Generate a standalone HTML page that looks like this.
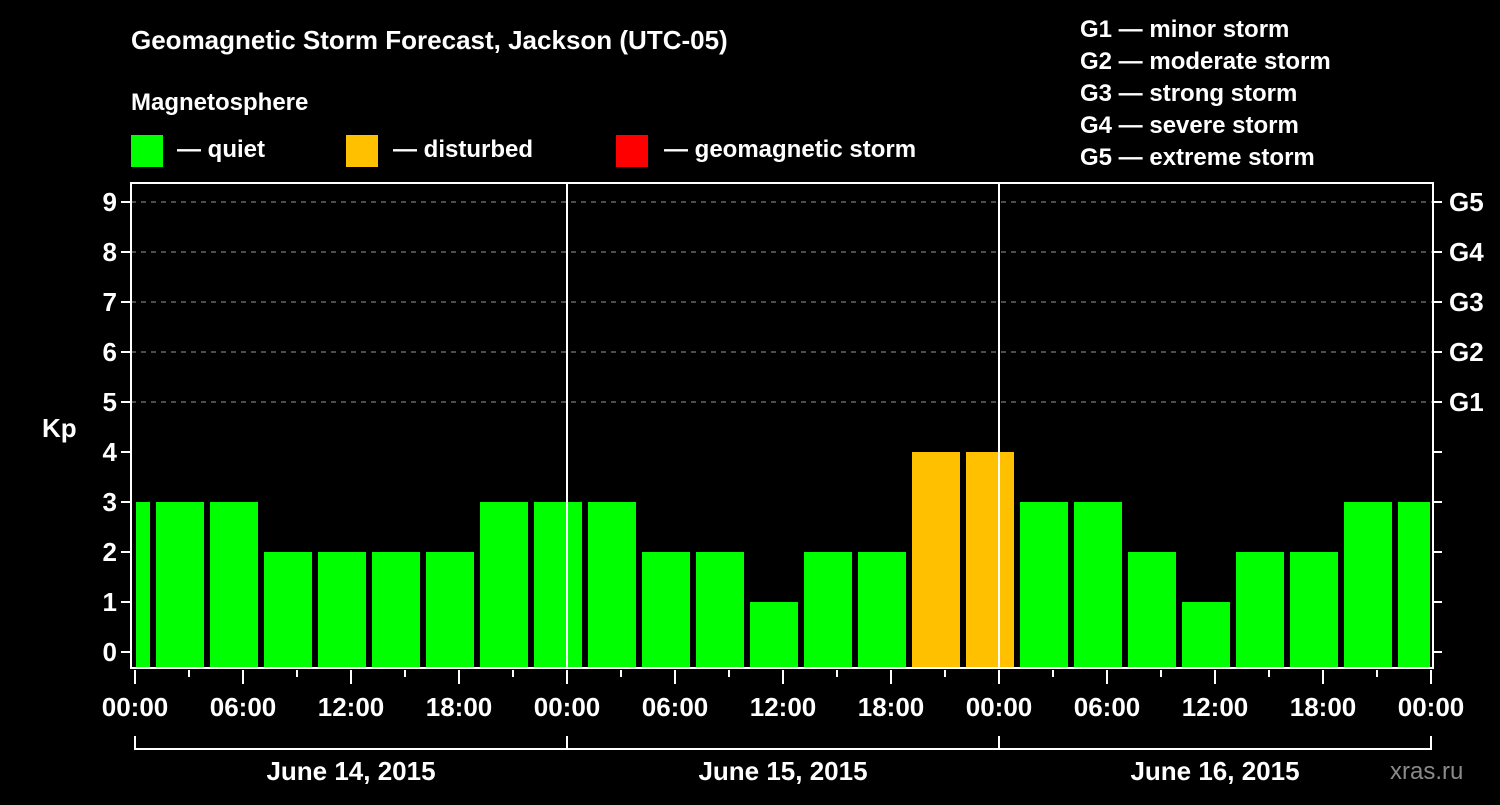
<!DOCTYPE html>
<html><head><meta charset="utf-8"><style>
body{margin:0;background:#000;width:1500px;height:800px;overflow:hidden}
svg text{font-family:"Liberation Sans",Arial,sans-serif;font-weight:bold;fill:#fff}
</style></head><body>
<svg id="chart" width="1500" height="800" xmlns="http://www.w3.org/2000/svg">
<rect width="1500" height="800" fill="#000"/>
<text x="131" y="49" font-size="26">Geomagnetic Storm Forecast, Jackson (UTC-05)</text>
<text x="131" y="110" font-size="24">Magnetosphere</text>
<g>
<rect x="131" y="135" width="32" height="32" fill="#00ff00"/>
<text x="177" y="157" font-size="24">— quiet</text>
<rect x="346" y="135" width="32" height="32" fill="#ffc000"/>
<text x="393" y="157" font-size="24">— disturbed</text>
<rect x="616" y="135" width="32" height="32" fill="#ff0000"/>
<text x="664" y="157" font-size="24">— geomagnetic storm</text>
</g>
<g font-size="24">
<text x="1080" y="37">G1 — minor storm</text>
<text x="1080" y="69">G2 — moderate storm</text>
<text x="1080" y="101">G3 — strong storm</text>
<text x="1080" y="133">G4 — severe storm</text>
<text x="1080" y="165">G5 — extreme storm</text>
</g>
<text x="42" y="437" font-size="26">Kp</text>
<text x="1390" y="779" font-size="24" fill="#888" style="fill:#8a8a8a;font-weight:normal">xras.ru</text>
<g id="marks"></g>
</svg>
<script>
const values=[3,3,3,2,2,2,2,3,3,3,2,2,1,2,2,4,4,3,3,2,1,2,2,3,3];
const yTicks=[0,1,2,3,4,5,6,7,8,9];
const gLabels=["G1","G2","G3","G4","G5"];
const xTickLabels=["00:00","06:00","12:00","18:00","00:00","06:00","12:00","18:00","00:00","06:00","12:00","18:00","00:00"];
const dayLabels=["June 14, 2015","June 15, 2015","June 16, 2015"];
const NS="http://www.w3.org/2000/svg";
const L=131,R=1433,T=183,B=668,X0=135,H3=54;
const y=v=>652-v*50;
const xh=h=>X0+h/3*H3;
const g=document.getElementById('marks');
function mk(t,a,p){const e=document.createElementNS(NS,t);for(const k in a)e.setAttribute(k,a[k]);(p||g).appendChild(e);return e;}
// grid
[5,6,7,8,9].forEach(v=>{const l=mk('line',{x1:L,x2:R,y1:y(v),y2:y(v),stroke:'#999','stroke-dasharray':'5,5','stroke-width':1});

});
// bars
values.forEach((v,i)=>{let x1=X0+21+(i-1)*H3,x2=x1+48;x1=Math.max(x1,L+5);x2=Math.min(x2,R-3);
const c=v>=5?'#ff0000':(v>=4?'#ffc000':'#00ff00');
const r=mk('rect',{x:x1,y:y(v),width:x2-x1,height:B-y(v),fill:c});

});
// day separators
[24,48].forEach(h=>{const l=mk('line',{x1:xh(h),x2:xh(h),y1:T,y2:B,stroke:'#fff','stroke-width':2});

});
// frame
const f=mk('rect',{x:L,y:T,width:R-L,height:B-T,fill:'none',stroke:'#fff','stroke-width':2});


// y ticks
yTicks.forEach(v=>{mk('line',{x1:L-10,x2:L,y1:y(v),y2:y(v),stroke:'#fff','stroke-width':2});
mk('line',{x1:R,x2:R+9,y1:y(v),y2:y(v),stroke:'#fff','stroke-width':2});
const t=mk('text',{x:L-14,y:y(v)+9,'font-size':26,'text-anchor':'end'});t.textContent=v;

});
gLabels.forEach((s,i)=>{const t=mk('text',{x:1449,y:y(i+5)+9,'font-size':26});t.textContent=s;

});
// x ticks
for(let h=0;h<=72;h+=3){const maj=h%6===0;mk('line',{x1:xh(h),x2:xh(h),y1:B+2,y2:B+(maj?16:9),stroke:'#fff','stroke-width':2});}
xTickLabels.forEach((s,i)=>{const t=mk('text',{x:xh(i*6),y:716,'font-size':26,'text-anchor':'middle'});t.textContent=s;

});
// day brackets
mk('line',{x1:xh(0),x2:xh(72),y1:749,y2:749,stroke:'#fff','stroke-width':2});
[0,24,48,72].forEach(h=>mk('line',{x1:xh(h),x2:xh(h),y1:736,y2:750,stroke:'#fff','stroke-width':2}));
dayLabels.forEach((s,i)=>{const t=mk('text',{x:xh(i*24+12),y:780,'font-size':26,'text-anchor':'middle'});t.textContent=s;

});
</script>
</body></html>
